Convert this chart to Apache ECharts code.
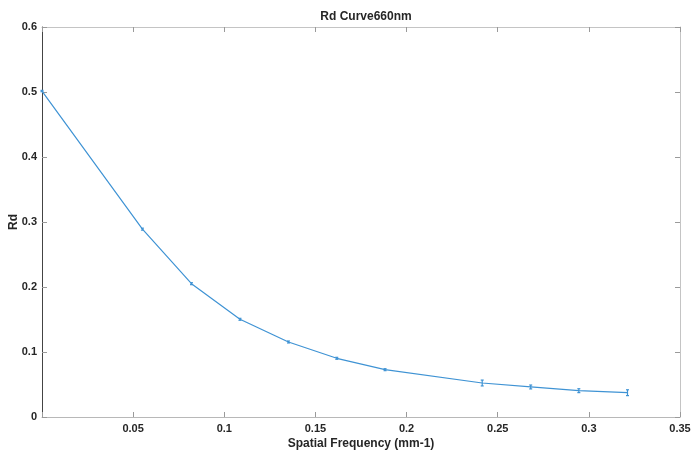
<!DOCTYPE html>
<html>
<head>
<meta charset="utf-8">
<script src="https://cdn.jsdelivr.net/npm/echarts@6/dist/echarts.min.js"></script>
<style>
  html, body { margin: 0; padding: 0; background: #fff; }
  #chart { width: 692px; height: 454px; }
</style>
</head>
<body>
<div id="chart"></div>
<script>
// Diffuse reflectance Rd vs spatial frequency at 660 nm
const freq = [0, 0.0551, 0.0820, 0.1086, 0.1352, 0.1617, 0.1882, 0.2415, 0.2681, 0.2945, 0.3212];
const rd   = [0.5015, 0.289, 0.2051, 0.1503, 0.1154, 0.0903, 0.0728, 0.0523, 0.0462, 0.0405, 0.0374];
const rdErr = [0.001, 0.0015, 0.0015, 0.0015, 0.0015, 0.0015, 0.0015, 0.0045, 0.003, 0.003, 0.0045];
const xTicks = [0, 0.05, 0.1, 0.15, 0.2, 0.25, 0.3, 0.35];
const yTicks = [0, 0.1, 0.2, 0.3, 0.4, 0.5, 0.6];

const lineColor = '#3f93d4';
const textColor = '#262626';
const fontFam = '"Liberation Sans", Arial, sans-serif';

const lineData = freq.map((x, i) => [x, rd[i]]);
const errData = freq.map((x, i) => [x, rd[i] - rdErr[i], rd[i] + rdErr[i]]);

const chart = echarts.init(document.getElementById('chart'), null, { renderer: 'canvas' });

const tickCommon = { show: true, inside: true, length: 5, lineStyle: { color: '#9a9a9a', width: 1 } };

chart.setOption({
  animation: false,
  backgroundColor: '#ffffff',
  title: {
    text: 'Rd Curve660nm',
    left: 361, top: 6, textAlign: 'center',
    textStyle: { fontFamily: fontFam, fontWeight: 'bold', fontSize: 12, color: textColor }
  },
  grid: { left: 42, right: 12, top: 27, bottom: 37, containLabel: false, outerBoundsMode: 'none' },
  xAxis: [
    {
      type: 'value', min: 0, max: 0.35, interval: 0.05, position: 'bottom',
      name: 'Spatial Frequency (mm-1)', nameLocation: 'middle', nameGap: 21, nameMoveOverlap: false,
      nameTextStyle: { fontFamily: fontFam, fontWeight: 'bold', fontSize: 12, color: textColor },
      axisLine: { show: true, onZero: false, lineStyle: { color: '#b8b8b8', width: 1 } },
      axisTick: tickCommon,
      splitLine: { show: false },
      axisLabel: {
        fontFamily: fontFam, fontWeight: 'bold', fontSize: 11, color: textColor, margin: 6,
        formatter: v => (v === 0 ? '' : String(+v.toFixed(2)))
      }
    },
    {
      type: 'value', min: 0, max: 0.35, interval: 0.05, position: 'top',
      axisLine: { show: true, onZero: false, lineStyle: { color: '#c4c4c4', width: 1 } },
      axisTick: tickCommon, axisLabel: { show: false }, splitLine: { show: false }
    }
  ],
  yAxis: [
    {
      type: 'value', min: 0, max: 0.6, interval: 0.1, position: 'left',
      name: 'Rd', nameLocation: 'middle', nameGap: 22, nameRotate: 90, nameMoveOverlap: false,
      nameTextStyle: { fontFamily: fontFam, fontWeight: 'bold', fontSize: 12, color: textColor },
      axisLine: { show: true, onZero: false, lineStyle: { color: '#444444', width: 1 } },
      axisTick: tickCommon,
      splitLine: { show: false },
      axisLabel: {
        fontFamily: fontFam, fontWeight: 'bold', fontSize: 11, color: textColor, margin: 5,
        formatter: v => String(+v.toFixed(1))
      }
    },
    {
      type: 'value', min: 0, max: 0.6, interval: 0.1, position: 'right',
      axisLine: { show: true, onZero: false, lineStyle: { color: '#c4c4c4', width: 1 } },
      axisTick: tickCommon, axisLabel: { show: false }, splitLine: { show: false }
    }
  ],
  series: [
    {
      type: 'line', xAxisIndex: 0, yAxisIndex: 0,
      data: lineData,
      symbol: 'none',
      lineStyle: { color: lineColor, width: 1.2 },
      z: 3
    },
    {
      type: 'custom', xAxisIndex: 0, yAxisIndex: 0,
      data: errData,
      renderItem: function (params, api) {
        const x = api.value(0);
        const lo = api.coord([x, api.value(1)]);
        const hi = api.coord([x, api.value(2)]);
        const cap = 1.5;
        const style = { stroke: lineColor, lineWidth: 1.2 };
        return {
          type: 'group',
          children: [
            { type: 'line', shape: { x1: lo[0], y1: lo[1], x2: hi[0], y2: hi[1] }, style },
            { type: 'line', shape: { x1: lo[0] - cap, y1: lo[1], x2: lo[0] + cap, y2: lo[1] }, style },
            { type: 'line', shape: { x1: hi[0] - cap, y1: hi[1], x2: hi[0] + cap, y2: hi[1] }, style }
          ]
        };
      },
      z: 4
    }
  ]
});
</script>
</body>
</html>
